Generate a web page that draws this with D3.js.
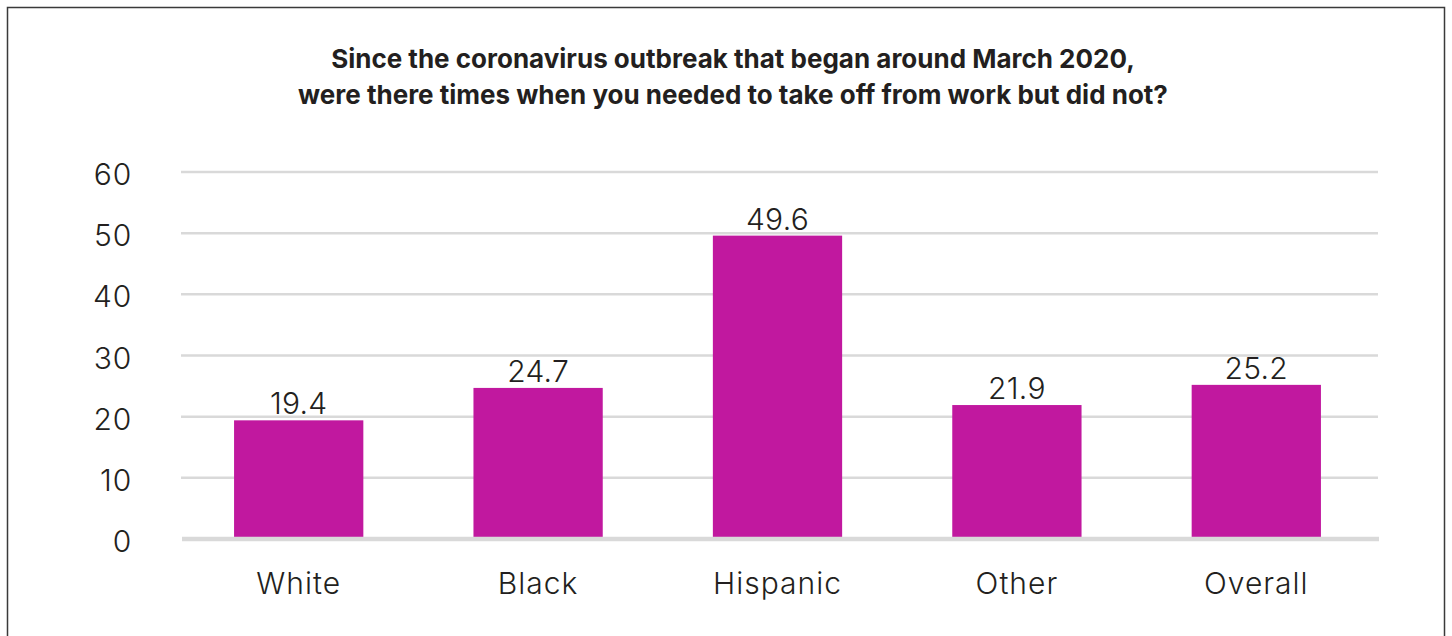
<!DOCTYPE html>
<html>
<head>
<meta charset="utf-8">
<script src="https://cdn.jsdelivr.net/npm/d3@7/dist/d3.min.js"></script>
<style>
  html, body { margin: 0; padding: 0; background: #fff; }
  svg { display: block; }
  text { font-family: Inter, "Noto Sans", sans-serif; fill: #231f20; }
</style>
</head>
<body>
<svg id="chart" width="1452" height="636"></svg>
<script>
// Share of workers who needed time off but did not take it, by group
const categories = ["White", "Black", "Hispanic", "Other", "Overall"];
const values = [19.4, 24.7, 49.6, 21.9, 25.2];
const yTicks = [0, 10, 20, 30, 40, 50, 60];
const titleLines = [
  "Since the coronavirus outbreak that began around March 2020,",
  "were there times when you needed to take off from work but did not?"
];

const svg = d3.select("#chart");
const H = 636;
const labelFont = "Inter, 'Noto Sans', sans-serif";

// outer frame
svg.append("rect")
  .attr("x", 7.5).attr("y", 7.5)
  .attr("width", 1437).attr("height", H)
  .attr("fill", "#fff").attr("stroke", "#3a3a3a").attr("stroke-width", 1.5);

const x = d3.scaleBand()
  .domain(categories)
  .range([179, 1376])
  .paddingInner(0.46)
  .paddingOuter(0.23);

const y = d3.scaleLinear()
  .domain([0, 60])
  .range([539, 172]);

// title
svg.append("g").selectAll("text")
  .data(titleLines)
  .join("text")
  .attr("x", 733)
  .attr("y", (d, i) => 68 + i * 35.5)
  .attr("text-anchor", "middle")
  .attr("font-size", 26)
  .attr("font-weight", 700)
  .text(d => d);

// gridlines
svg.append("g")
  .selectAll("line")
  .data(yTicks.filter(t => t > 0))
  .join("line")
  .attr("x1", 181).attr("x2", 1378)
  .attr("y1", d => y(d)).attr("y2", d => y(d))
  .attr("stroke", "#d9d9d9").attr("stroke-width", 2.5);

// y axis labels
const yAxis = d3.axisLeft(y).tickValues(yTicks).tickSize(0).tickPadding(0);
const yg = svg.append("g").attr("transform", "translate(132,0)").call(yAxis);
yg.select(".domain").remove();
yg.selectAll("text")
  .attr("font-size", 30)
  .attr("font-weight", 300)
  .attr("letter-spacing", 0.8)
  .attr("font-family", labelFont)
  .attr("fill", "#231f20")
  .attr("dy", "0.42em");

// bars
svg.append("g")
  .selectAll("rect")
  .data(values)
  .join("rect")
  .attr("x", (d, i) => x(categories[i]))
  .attr("width", x.bandwidth())
  .attr("y", d => y(d))
  .attr("height", d => y(0) - y(d))
  .attr("fill", "#c1189f");

// zero baseline
svg.append("line")
  .attr("x1", 182).attr("x2", 1379)
  .attr("y1", y(0)).attr("y2", y(0))
  .attr("stroke", "#d9d9d9").attr("stroke-width", 4.5);

// value labels
svg.append("g")
  .selectAll("text")
  .data(values)
  .join("text")
  .attr("x", (d, i) => x(categories[i]) + x.bandwidth() / 2)
  .attr("y", d => y(d) - 6)
  .attr("text-anchor", "middle")
  .attr("font-size", 30)
  .attr("font-weight", 300)
  .attr("letter-spacing", 0.3)
  .text(d => d.toFixed(1));

// category axis
const xAxis = d3.axisBottom(x).tickSize(0).tickPadding(0);
const xg = svg.append("g").attr("transform", "translate(0,594)").call(xAxis);
xg.select(".domain").remove();
xg.selectAll("text")
  .attr("font-size", 30)
  .attr("font-weight", 300)
  .attr("letter-spacing", 1)
  .attr("font-family", labelFont)
  .attr("fill", "#231f20")
  .attr("dy", 0)
  .attr("y", 0);
</script>
</body>
</html>
